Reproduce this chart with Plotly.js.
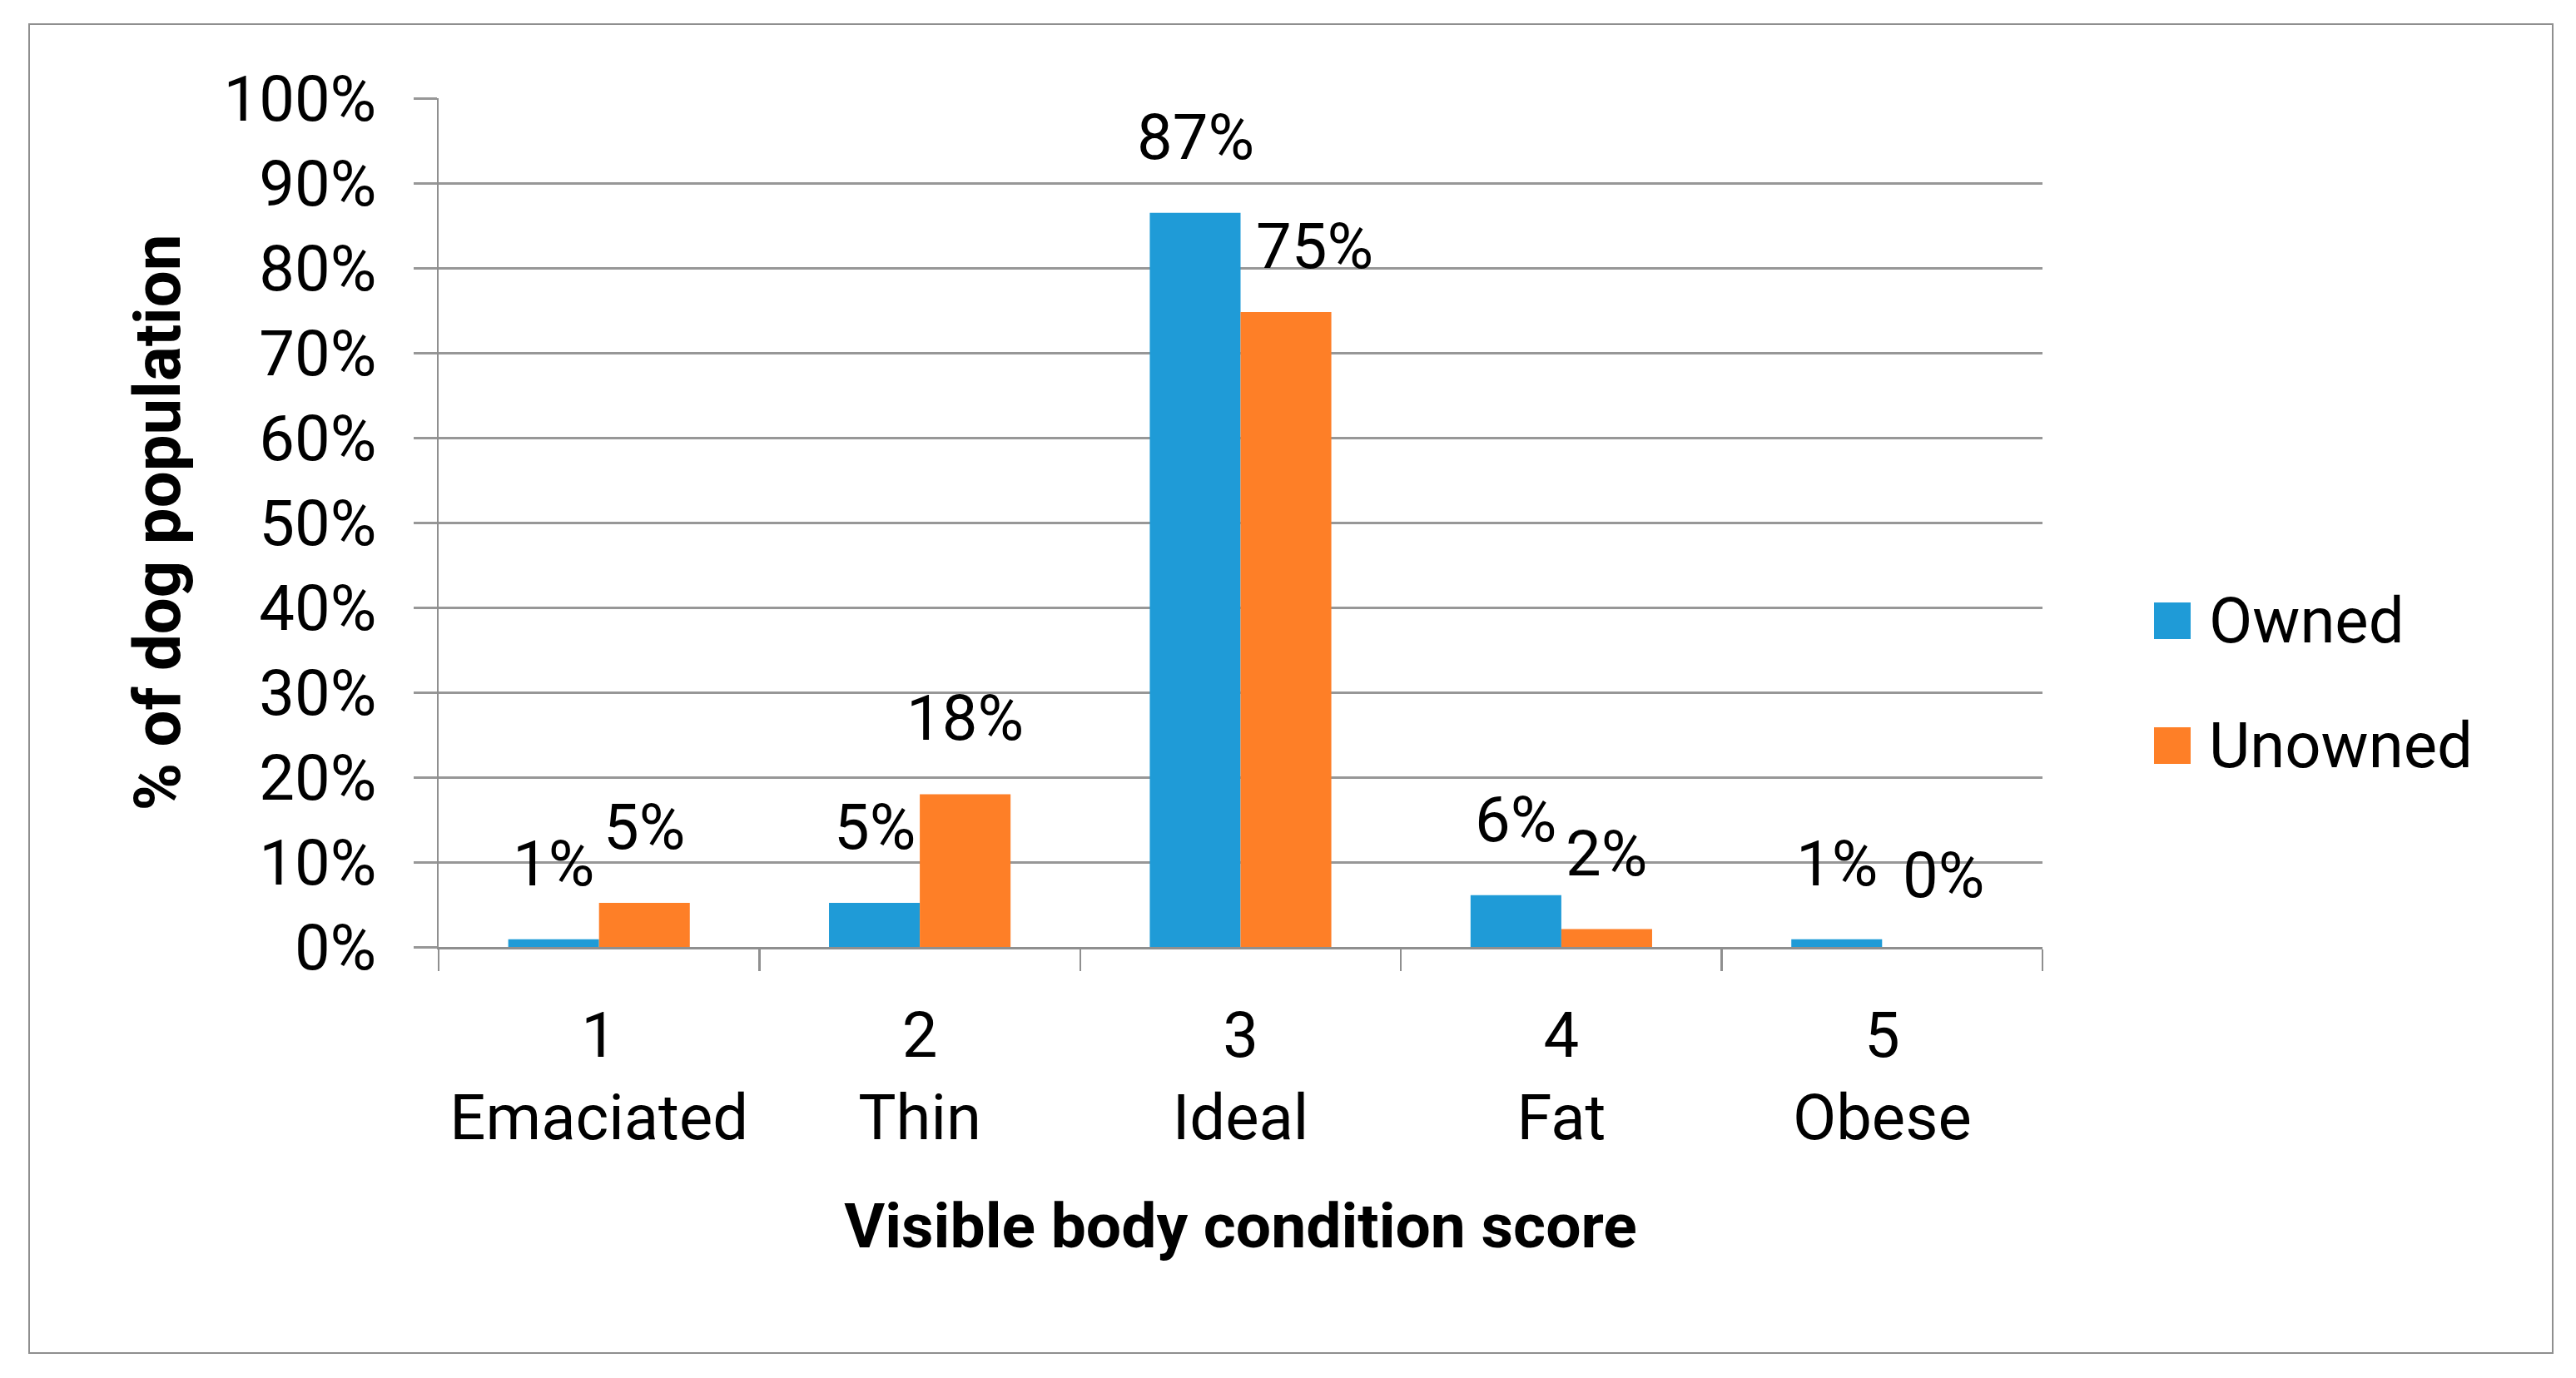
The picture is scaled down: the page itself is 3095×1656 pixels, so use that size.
<!DOCTYPE html>
<html>
<head>
<meta charset="utf-8">
<script src="https://cdn.plot.ly/plotly-3.0.1.min.js"></script>
<style>
  body { margin: 0; background: #fff; }
  #frame { position: absolute; left: 34px; top: 28px; width: 3030px; height: 1595px; border: 2.5px solid #8f8f8f; pointer-events: none; }
  #chart { position: absolute; left: 0; top: 0; width: 3095px; height: 1656px; }
</style>
</head>
<body>
<div id="chart"></div>
<div id="frame"></div>
<script>
// Body condition score categories
var scores = ['1', '2', '3', '4', '5'];
var scoreNames = ['Emaciated', 'Thin', 'Ideal', 'Fat', 'Obese'];

// % of dog population per score
var owned = [0.9, 5.2, 86.5, 6.1, 0.9];
var unowned = [5.2, 18.0, 74.8, 2.1, 0.0];

var seriesNames = ['Owned', 'Unowned'];
var seriesColors = ['#1f9bd7', '#fe7f27'];

// plot box in page pixels
var W = 3095, H = 1656;
var plotL = 527, plotR = 2454, plotT = 118, plotB = 1138;

var cats = [];
for (var i = 0; i < scores.length; i++) {
	cats.push(scores[i] + '<br>' + scoreNames[i]);
}

var data = [
	{ x: cats, y: owned, name: seriesNames[0], type: 'bar', marker: { color: seriesColors[0] }, hoverinfo: 'skip' },
	{ x: cats, y: unowned, name: seriesNames[1], type: 'bar', marker: { color: seriesColors[1] }, hoverinfo: 'skip' }
];

// value labels sit above each bar, a few were dragged aside in the original
var nudgeX = [[0, 0, 0, 0, 0], [0, 0, 34, 0, 19]];
var nudgeY = [[0, 0, 0, 0, 0], [0, 0, -12, 0, -5]];
var barHalf = 54.5;
var annotations = [];
var series = [owned, unowned];
for (var s = 0; s < series.length; s++) {
	for (var j = 0; j < cats.length; j++) {
		annotations.push({
			x: cats[j], y: series[s][j], xref: 'x', yref: 'y',
			xshift: (s === 0 ? -barHalf : barHalf) + nudgeX[s][j],
			yshift: 44 + nudgeY[s][j], yanchor: 'bottom', showarrow: false,
			text: Math.round(series[s][j]) + '%',
			font: { size: 76 }
		});
	}
}

// legend drawn by hand so the swatches can be as large as the original
var px = function(p) { return (p - plotL) / (plotR - plotL); };
var py = function(p) { return (plotB - p) / (plotB - plotT); };
var legendY = [746, 896];
var shapes = [];
for (var k = 0; k < seriesNames.length; k++) {
	shapes.push({
		type: 'rect', xref: 'paper', yref: 'paper',
		x0: px(2588), x1: px(2632), y0: py(legendY[k] + 22), y1: py(legendY[k] - 22),
		fillcolor: seriesColors[k], line: { width: 0 }
	});
	annotations.push({
		xref: 'paper', yref: 'paper', x: px(2652), y: py(legendY[k]),
		xanchor: 'left', yanchor: 'middle', showarrow: false,
		text: seriesNames[k], font: { size: 76 }
	});
}

var layout = {
	width: W,
	height: H,
	margin: { l: plotL, r: W - plotR, t: plotT, b: H - plotB, pad: 0 },
	font: { family: 'Roboto, "Open Sans", sans-serif', color: '#000', size: 76 },
	paper_bgcolor: '#fff',
	plot_bgcolor: '#fff',
	showlegend: false,
	bargap: 0.434,
	bargroupgap: 0,
	xaxis: {
		type: 'category',
		showgrid: false,
		showline: true, linecolor: '#8f8f8f', linewidth: 3,
		ticks: 'outside', tickson: 'boundaries', ticklen: 26, tickwidth: 2.5, tickcolor: '#8f8f8f',
		tickfont: { size: 76 },
		ticklabelstandoff: 38,
		automargin: false,
		title: { text: '<b>Visible body condition score</b>', font: { size: 75 }, standoff: 60 }
	},
	yaxis: {
		range: [0, 100],
		dtick: 10,
		ticksuffix: '%',
		showgrid: true, gridcolor: '#979797', gridwidth: 3,
		zeroline: false,
		showline: true, linecolor: '#8f8f8f', linewidth: 2.5,
		ticks: 'outside', ticklen: 28, tickwidth: 3, tickcolor: '#979797',
		tickfont: { size: 76 },
		ticklabelstandoff: 29,
		automargin: false,
		title: { text: '<b>% of dog population</b>', font: { size: 78 }, standoff: 26 }
	},
	annotations: annotations,
	shapes: shapes
};

Plotly.newPlot('chart', data, layout, { displayModeBar: false, staticPlot: true });
</script>
</body>
</html>
